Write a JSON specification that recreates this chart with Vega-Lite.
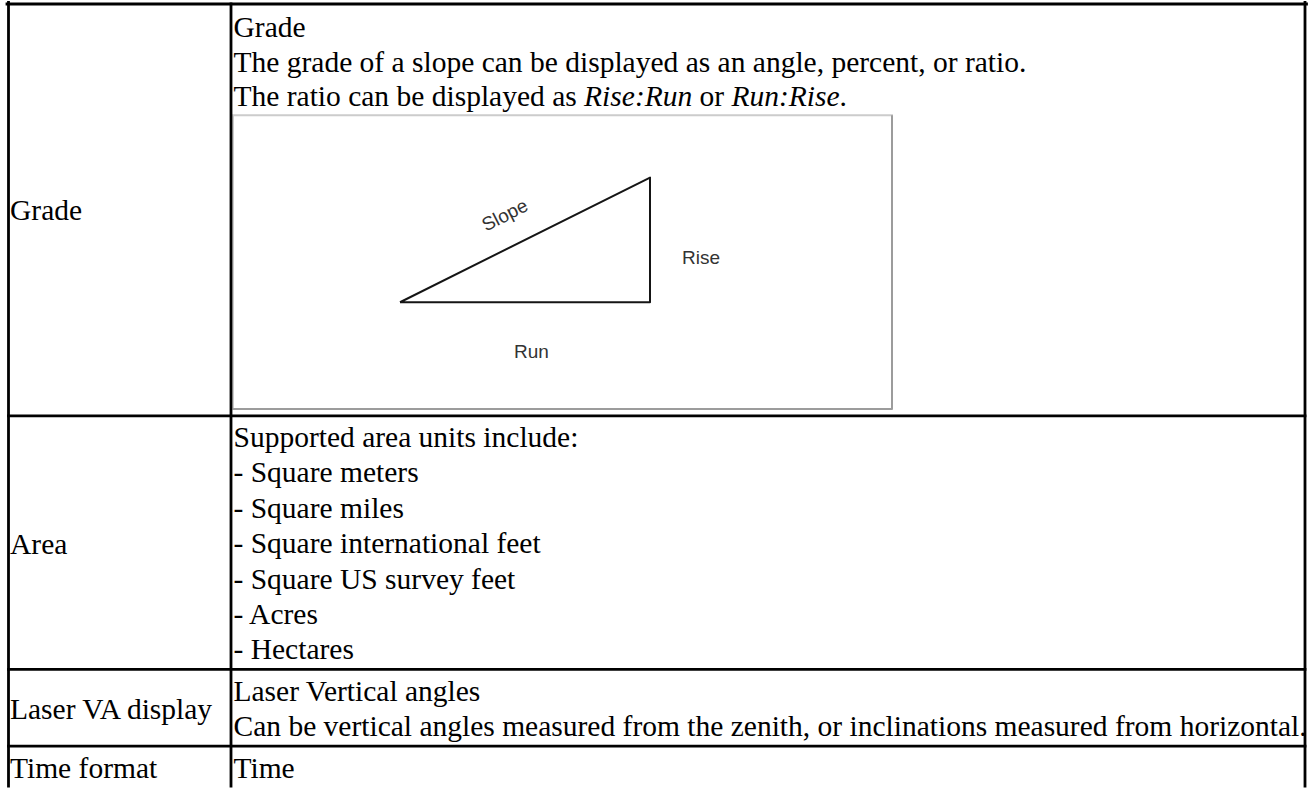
{
  "$schema": "https://vega.github.io/schema/vega-lite/v6.json",
  "width": 1311,
  "height": 788,
  "autosize": {"type": "fit", "contains": "padding"},
  "padding": 0,
  "background": "white",
  "config": {"view": {"stroke": null}},
  "datasets": {
    "box": [{"x": 233, "x2": 892, "y": 115.5, "y2": 410}],
    "boxShade": [
      {"x": 892, "x2": 892, "y": 115.5, "y2": 410.5},
      {"x": 233, "x2": 892, "y": 410, "y2": 410}
    ],
    "triangle": [
      {"order": 1, "x": 400, "y": 303},
      {"order": 2, "x": 650, "y": 178},
      {"order": 3, "x": 650, "y": 303},
      {"order": 4, "x": 400, "y": 303}
    ],
    "borders": [
      {"x": 7, "x2": 1306.5, "y": 4, "y2": 4},
      {"x": 8.5, "x2": 8.5, "y": 2.5, "y2": 788},
      {"x": 231, "x2": 231, "y": 4, "y2": 788},
      {"x": 1305, "x2": 1305, "y": 2.5, "y2": 788},
      {"x": 8.5, "x2": 1305, "y": 417, "y2": 417},
      {"x": 8.5, "x2": 1305, "y": 671, "y2": 671},
      {"x": 8.5, "x2": 1305, "y": 748, "y2": 748}
    ],
    "cells": [
      {"x": 10, "y": 220.5, "text": "Grade"},
      {"x": 10, "y": 555, "text": "Area"},
      {"x": 10, "y": 721, "text": "Laser VA display"},
      {"x": 10, "y": 779.5, "text": "Time format"},
      {"x": 233.5, "y": 37.5, "text": "Grade"},
      {"x": 233.5, "y": 72, "text": "The grade of a slope can be displayed as an angle, percent, or ratio."},
      {"x": 233.5, "y": 106.5, "text": "The ratio can be displayed as"},
      {"x": 699.5, "y": 106.5, "text": "or"},
      {"x": 839.6, "y": 106.5, "text": "."},
      {"x": 233.5, "y": 448, "text": "Supported area units include:"},
      {"x": 233.5, "y": 483.5, "text": "- Square meters"},
      {"x": 233.5, "y": 519, "text": "- Square miles"},
      {"x": 233.5, "y": 554.5, "text": "- Square international feet"},
      {"x": 233.5, "y": 590, "text": "- Square US survey feet"},
      {"x": 233.5, "y": 625.5, "text": "- Acres"},
      {"x": 233.5, "y": 661, "text": "- Hectares"},
      {"x": 233.5, "y": 702.5, "text": "Laser Vertical angles"},
      {"x": 233.5, "y": 738, "text": "Can be vertical angles measured from the zenith, or inclinations measured from horizontal."},
      {"x": 233.5, "y": 779.5, "text": "Time"}
    ],
    "italics": [
      {"x": 584.1, "y": 106.5, "text": "Rise:Run"},
      {"x": 731.5, "y": 106.5, "text": "Run:Rise"}
    ],
    "diagramLabels": [
      {"x": 682, "y": 259, "text": "Rise"},
      {"x": 514, "y": 353, "text": "Run"}
    ],
    "slopeLabel": [{"x": 505, "y": 216, "text": "Slope"}]
  },
  "encoding": {
    "x": {"field": "x", "type": "quantitative", "scale": {"domain": [0, 1311], "nice": false, "zero": false}, "axis": null},
    "y": {"field": "y", "type": "quantitative", "scale": {"domain": [0, 788], "nice": false, "zero": false, "reverse": true}, "axis": null}
  },
  "layer": [
    {
      "data": {"name": "box"},
      "mark": {"type": "rect", "fill": "white", "stroke": "#cccccc", "strokeWidth": 2},
      "encoding": {"x2": {"field": "x2"}, "y2": {"field": "y2"}}
    },
    {
      "data": {"name": "boxShade"},
      "mark": {"type": "rule", "color": "#9c9c9c", "strokeWidth": 2},
      "encoding": {"x2": {"field": "x2"}, "y2": {"field": "y2"}}
    },
    {
      "data": {"name": "triangle"},
      "mark": {"type": "line", "color": "#151515", "strokeWidth": 2, "strokeJoin": "round"},
      "encoding": {"order": {"field": "order", "type": "quantitative"}}
    },
    {
      "data": {"name": "borders"},
      "mark": {"type": "rule", "color": "black", "strokeWidth": 2.8, "strokeCap": "square"},
      "encoding": {"x2": {"field": "x2"}, "y2": {"field": "y2"}}
    },
    {
      "data": {"name": "cells"},
      "mark": {"type": "text", "align": "left", "baseline": "alphabetic", "font": "Liberation Serif, Times New Roman, serif", "fontSize": 29.5, "color": "black"},
      "encoding": {"text": {"field": "text"}}
    },
    {
      "data": {"name": "italics"},
      "mark": {"type": "text", "align": "left", "baseline": "alphabetic", "font": "Liberation Serif, Times New Roman, serif", "fontStyle": "italic", "fontSize": 29.5, "color": "black"},
      "encoding": {"text": {"field": "text"}}
    },
    {
      "data": {"name": "diagramLabels"},
      "mark": {"type": "text", "align": "left", "baseline": "middle", "font": "Liberation Sans, Arial, sans-serif", "fontSize": 19, "color": "#333333"},
      "encoding": {"text": {"field": "text"}}
    },
    {
      "data": {"name": "slopeLabel"},
      "mark": {"type": "text", "align": "center", "baseline": "middle", "font": "Liberation Sans, Arial, sans-serif", "fontSize": 19, "color": "#333333", "angle": -27},
      "encoding": {"text": {"field": "text"}}
    }
  ]
}
